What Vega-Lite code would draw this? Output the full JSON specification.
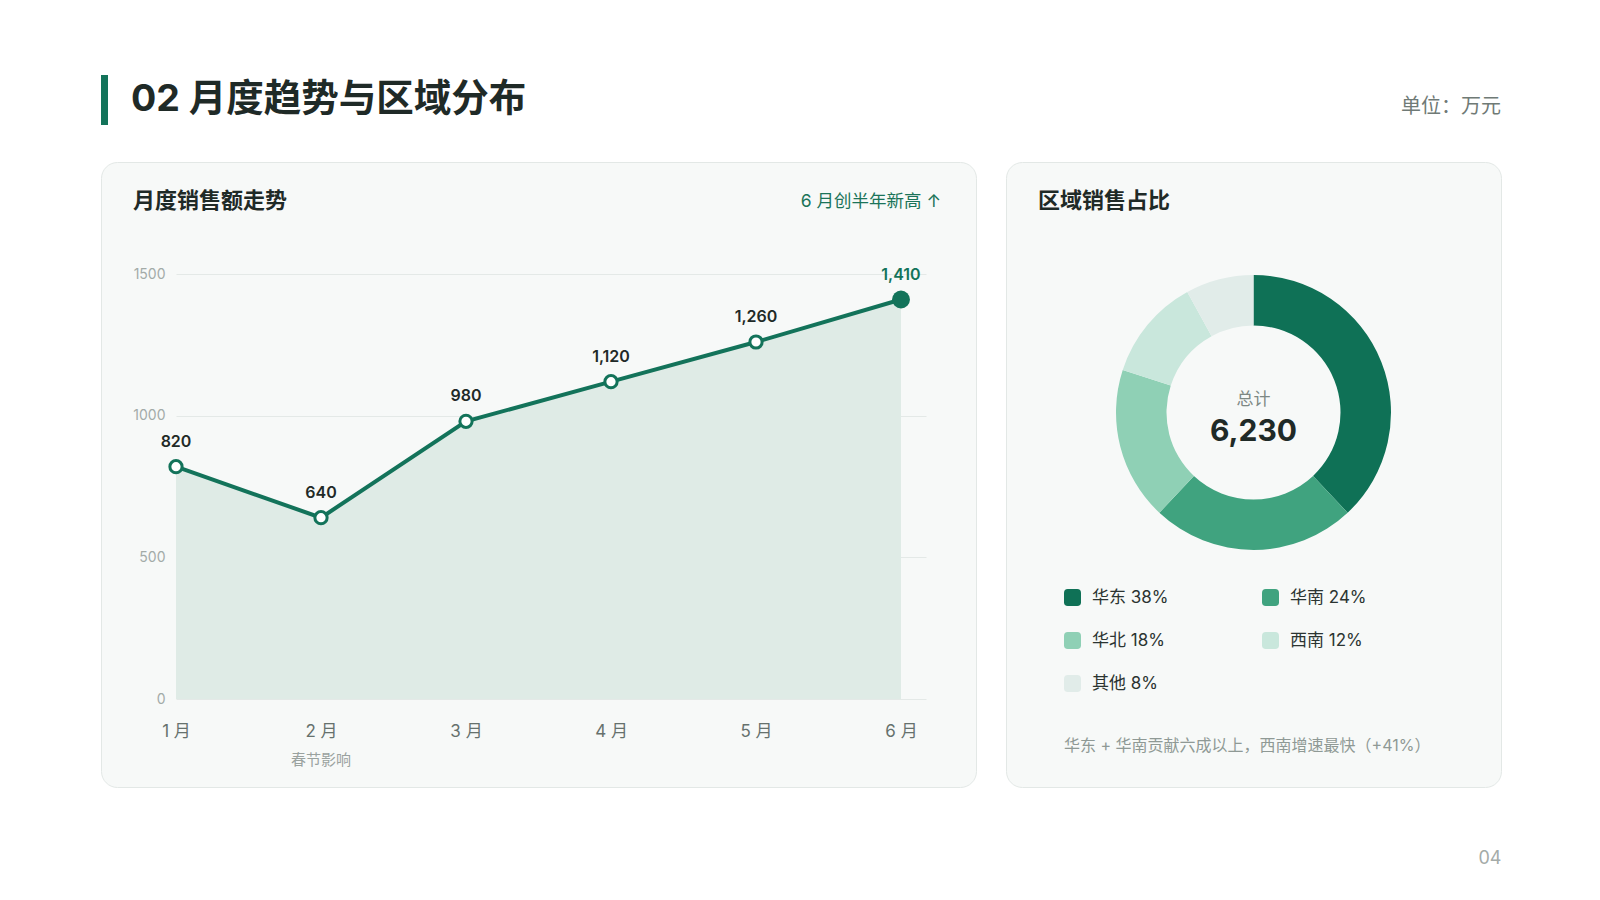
{
  "$schema": "https://vega.github.io/schema/vega-lite/v6.json",
  "background": "#ffffff",
  "padding": {"left": 100, "top": 75, "right": 100, "bottom": 30},
  "autosize": {"type": "pad"},
  "bounds": "flush",
  "align": "each",
  "columns": 2,
  "spacing": {"row": 37, "column": 30},
  "title": {"text": "04", "orient": "bottom", "anchor": "end", "frame": "bounds", "offset": 62, "fontSize": 18, "fontWeight": "normal", "color": "#a4aba8"},
  "config": {
    "font": "Inter, Noto Sans CJK SC, sans-serif",
    "view": {"stroke": null},
    "title": {"font": "Inter, Noto Sans CJK SC, sans-serif", "color": "#1f2a27"},
    "axis": {"labelFont": "Inter, Noto Sans CJK SC, sans-serif"},
    "legend": {"labelFont": "Inter, Noto Sans CJK SC, sans-serif", "titleFont": "Inter, Noto Sans CJK SC, sans-serif"}
  },
  "datasets": {
    "monthly": [
      {"month": "1 月", "sales": 820},
      {"month": "2 月", "sales": 640},
      {"month": "3 月", "sales": 980},
      {"month": "4 月", "sales": 1120},
      {"month": "5 月", "sales": 1260},
      {"month": "6 月", "sales": 1410}
    ],
    "regions": [
      {"region": "华东", "pct": 38, "label": "华东 38%"},
      {"region": "华南", "pct": 24, "label": "华南 24%"},
      {"region": "华北", "pct": 18, "label": "华北 18%"},
      {"region": "西南", "pct": 12, "label": "西南 12%"},
      {"region": "其他", "pct": 8, "label": "其他 8%"}
    ]
  },
  "concat": [
    {
      "width": 7,
      "height": 50,
      "view": {"stroke": null, "fill": null},
      "data": {"values": [{"bar": 1}]},
      "mark": {"type": "rect", "color": "#13735a"},
      "title": {"text": "02 月度趋势与区域分布", "orient": "right", "angle": 0, "align": "right", "baseline": "middle", "anchor": "middle", "frame": "group", "offset": 23, "fontSize": 37.5, "fontWeight": "bold", "color": "#1f2a27"}
    },
    {
      "width": 495,
      "height": 50,
      "view": {"stroke": null, "fill": null},
      "data": {"values": [{"unit": "万元"}]},
      "mark": {"type": "rect", "opacity": 0},
      "title": {"text": "单位：万元", "orient": "top", "anchor": "end", "frame": "group", "offset": -42, "fontSize": 20, "fontWeight": "normal", "color": "#6f7a76"}
    },
    {
      "width": 875,
      "height": 625,
      "view": {"fill": "#f7f9f8", "stroke": "#e3e8e6", "strokeWidth": 1, "cornerRadius": 16},
      "title": {"text": "月度销售额走势", "anchor": "start", "frame": "group", "dx": 32, "offset": -51, "fontSize": 22, "fontWeight": "bold", "color": "#1f2a27"},
      "layer": [
        {
          "data": {"name": "monthly"},
          "encoding": {
            "x": {
              "field": "month", "type": "ordinal", "sort": null,
              "scale": {"type": "point", "range": [75, 825], "padding": 0.0862, "align": 0},
              "axis": {"offset": -88, "labelPadding": 24, "labelFontSize": 17, "labelColor": "#66716d", "labelAngle": 0, "labelBaseline": "top", "domain": false, "ticks": false, "grid": false, "title": null}
            },
            "y": {
              "field": "sales", "type": "quantitative",
              "scale": {"domain": [0, 1500], "range": [537, 112], "nice": false, "zero": true},
              "axis": {"values": [0, 500, 1000, 1500], "format": "d", "offset": -75, "labelPadding": 11, "labelFontSize": 14, "labelColor": "#a3aba8", "grid": true, "gridColor": "#e4e9e7", "gridWidth": 1, "domain": false, "ticks": false, "title": null}
            }
          },
          "layer": [
            {"mark": {"type": "area", "color": "#dfebe6", "opacity": 1}},
            {"mark": {"type": "line", "color": "#13735a", "strokeWidth": 4}},
            {
              "transform": [{"filter": "datum.month !== '6 月'"}],
              "mark": {"type": "point", "filled": true, "fill": "#ffffff", "stroke": "#13735a", "strokeWidth": 3, "size": 150, "opacity": 1}
            },
            {
              "transform": [{"filter": "datum.month === '6 月'"}],
              "mark": {"type": "point", "filled": true, "color": "#13735a", "size": 320, "opacity": 1}
            },
            {
              "mark": {"type": "text", "dy": -25, "fontSize": 16, "fontWeight": 600, "baseline": "middle"},
              "encoding": {
                "text": {"field": "sales", "type": "quantitative", "format": ","},
                "color": {"condition": {"test": "datum.month === '6 月'", "value": "#13735a"}, "value": "#1f2a27"}
              }
            }
          ]
        },
        {
          "data": {"values": [{"month": "6 月", "note": "6 月创半年新高 ↑"}]},
          "mark": {"type": "text", "align": "right", "baseline": "middle", "dx": 40, "dy": -72, "fontSize": 17.5, "color": "#1b7459"},
          "encoding": {
            "x": {"field": "month", "type": "ordinal", "sort": null},
            "y": {"datum": 1500, "type": "quantitative"},
            "text": {"field": "note"}
          }
        },
        {
          "data": {"values": [{"month": "2 月", "note": "春节影响"}]},
          "mark": {"type": "text", "baseline": "middle", "dy": 61, "fontSize": 15, "color": "#9aa29f"},
          "encoding": {
            "x": {"field": "month", "type": "ordinal", "sort": null},
            "y": {"datum": 0, "type": "quantitative"},
            "text": {"field": "note"}
          }
        }
      ]
    },
    {
      "width": 495,
      "height": 625,
      "view": {"fill": "#f7f9f8", "stroke": "#e3e8e6", "strokeWidth": 1, "cornerRadius": 16},
      "title": {"text": "区域销售占比", "anchor": "start", "frame": "group", "dx": 32, "offset": -51, "fontSize": 22, "fontWeight": "bold", "color": "#1f2a27"},
      "layer": [
        {
          "data": {"name": "regions"},
          "mark": {"type": "arc", "outerRadius": 137.5, "innerRadius": 87},
          "encoding": {
            "theta": {"field": "pct", "type": "quantitative"},
            "order": {"field": "pct", "sort": "descending"},
            "y": {"datum": 0.5992, "type": "quantitative", "scale": {"domain": [0, 1], "nice": false, "zero": false}, "axis": null},
            "color": {
              "field": "label", "type": "nominal", "sort": null,
              "scale": {
                "domain": ["华东 38%", "华南 24%", "华北 18%", "西南 12%", "其他 8%"],
                "range": ["#0f7156", "#40a37f", "#8fd0b5", "#c9e7dc", "#e1ece9"]
              },
              "legend": {
                "orient": "none", "legendX": 963, "legendY": 514, "columns": 2, "direction": "horizontal",
                "columnPadding": 93, "rowPadding": 25, "padding": 0,
                "symbolType": "M-1,-0.55Q-1,-1,-0.55,-1L0.55,-1Q1,-1,1,-0.55L1,0.55Q1,1,0.55,1L-0.55,1Q-1,1,-1,0.55Z",
                "symbolSize": 289, "symbolStrokeWidth": 0, "symbolOpacity": 1,
                "labelFontSize": 17, "labelColor": "#2b3431", "labelOffset": 11, "labelLimit": 200,
                "title": "华东 + 华南贡献六成以上，西南增速最快（+41%）",
                "titleOrient": "bottom", "titleAnchor": "start", "titleFontSize": 16, "titleFontWeight": "normal",
                "titleColor": "#8f9995", "titlePadding": 46, "titleLimit": 600
              }
            }
          }
        },
        {
          "data": {"values": [{"caption": "总计"}]},
          "mark": {"type": "text", "baseline": "middle", "dy": -13, "fontSize": 17, "color": "#7d8884"},
          "encoding": {
            "y": {"datum": 0.5992, "type": "quantitative"},
            "text": {"field": "caption"}
          }
        },
        {
          "data": {"name": "monthly"},
          "transform": [{"aggregate": [{"op": "sum", "field": "sales", "as": "total"}]}],
          "mark": {"type": "text", "baseline": "middle", "dy": 19, "fontSize": 30, "fontWeight": "bold", "color": "#1f2a27"},
          "encoding": {
            "y": {"datum": 0.5992, "type": "quantitative"},
            "text": {"field": "total", "type": "quantitative", "format": ","}
          }
        }
      ]
    }
  ]
}
